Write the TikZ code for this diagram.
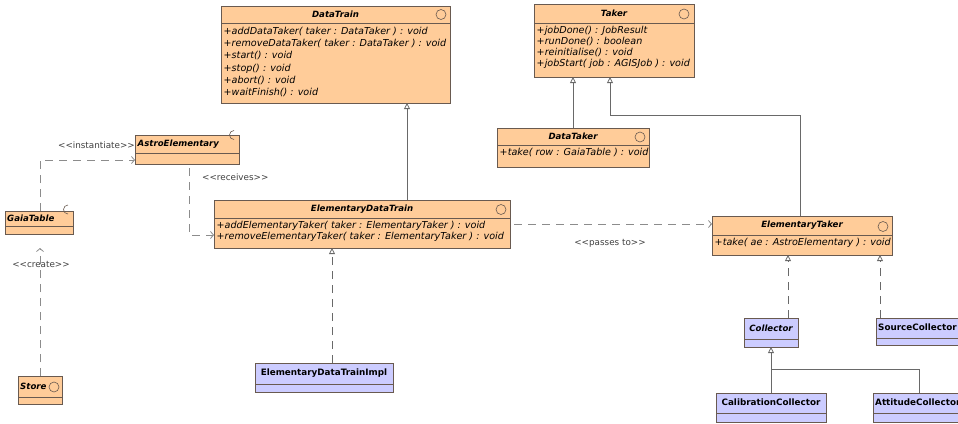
\documentclass[tikz,border=0pt]{standalone}
\usepackage{fontspec}
\setmainfont{DejaVu Sans}
\usetikzlibrary{arrows.meta,calc}
\definecolor{orfill}{RGB}{255,204,153}
\definecolor{lvfill}{RGB}{204,204,255}
\definecolor{edgec}{RGB}{105,90,80}
\definecolor{connc}{RGB}{105,105,105}
\definecolor{dconnc}{RGB}{140,140,140}
\tikzset{
  classbox/.style={draw=edgec, line width=0.7pt, inner sep=0pt, outer sep=0pt, rectangle},
  sepline/.style={draw=edgec, line width=0.6pt},
  ttl/.style={font=\fontsize{8.6}{10}\selectfont\bfseries\itshape, inner sep=0pt},
  ttlup/.style={font=\fontsize{8.8}{10}\selectfont\bfseries, inner sep=0pt},
  meth/.style={font=\fontsize{9.6}{11}\selectfont\itshape, inner sep=0pt, align=left, anchor=north west},
  methwide/.style={meth, font=\fontsize{9.6}{12.2}\selectfont\itshape},
  iconc/.style={draw=edgec, line width=0.6pt},
  inh/.style={draw=connc, line width=0.8pt, -{Triangle[open, length=6pt, width=6pt]}},
  realz/.style={inh, dash pattern=on 8pt off 6pt},
  plainc/.style={draw=connc, line width=0.8pt},
  dep/.style={draw=dconnc, line width=0.8pt, dash pattern=on 8pt off 6pt, -{Straight Barb[length=3pt,width=7pt]}},
  lbl/.style={font=\fontsize{8.8}{10}\selectfont, text=black!75, inner sep=0pt},
}
\newcommand\stereo[1]{{<}{<}#1{>}{>}}
% #1 name, #2 x1, #3 y1, #4 x2, #5 y2, #6 ysep, #7 fill
\newcommand\umlbox[7]{%
  \node[classbox, fill=#7, anchor=north west, minimum width={#4-#2}, minimum height={#5-#3}] (#1) at (#2,#3) {};
  \draw[sepline] (#2,#6) -- (#4,#6);
}
\begin{document}
\begin{tikzpicture}[x=1pt,y=-1pt]
\useasboundingbox (0,0) rectangle (958,423);
\clip (0,0) rectangle (958,423);

% ---- DataTrain
\umlbox{DataTrain}{221}{6}{450}{103}{23}{orfill}
\node[ttl] (DataTrainT) at (335.5,14.5) {DataTrain};
\draw[iconc] (441,14.5) circle (5);
\node[methwide] (DataTrainM) at (223.5,27) {+addDataTaker( taker : DataTaker ) : void\\+removeDataTaker( taker : DataTaker ) : void\\+start() : void\\+stop() : void\\+abort() : void\\+waitFinish() : void};

% ---- Taker
\umlbox{Taker}{534}{4}{694}{77}{23}{orfill}
\node[ttl] (TakerT) at (614,13.5) {Taker};
\draw[iconc] (684,14) circle (5);
\node[meth] (TakerM) at (536.5,26.5) {+jobDone() : JobResult\\+runDone() : boolean\\+reinitialise() : void\\+jobStart( job : AGISJob ) : void};

% ---- DataTaker
\umlbox{DataTaker}{497}{128}{649}{167}{145}{orfill}
\node[ttl] (DataTakerT) at (573,136.5) {DataTaker};
\draw[iconc] (640,137) circle (5);
\node[meth] (DataTakerM) at (499.5,148.5) {+take( row : GaiaTable ) : void};

% ---- AstroElementary
\umlbox{AE}{135}{135}{239}{164}{153}{orfill}
\node[ttl, anchor=west] (AET) at (137.5,144) {AstroElementary};
\draw[iconc] (234,139.5) arc (90:270:4.5);

% ---- GaiaTable
\umlbox{Gaia}{5}{211}{73}{234}{226}{orfill}
\node[ttl, anchor=west] (GaiaT) at (7,218.5) {GaiaTable};
\draw[iconc] (68,214) arc (90:270:4.5);

% ---- Store
\umlbox{Store}{18}{376}{62}{404}{397}{orfill}
\node[ttl, anchor=west] (StoreT) at (20,386.5) {Store};
\draw[iconc] (54,387) circle (5);

% ---- ElementaryDataTrain
\umlbox{EDT}{214}{200}{510}{248}{218}{orfill}
\node[ttl] (EDTT) at (362,209) {ElementaryDataTrain};
\draw[iconc] (501,209.5) circle (5);
\node[meth] (EDTM) at (216.5,221.5) {+addElementaryTaker( taker : ElementaryTaker ) : void\\+removeElementaryTaker( taker : ElementaryTaker ) : void};

% ---- ElementaryTaker
\umlbox{ElemTaker}{712}{216}{892}{255}{235}{orfill}
\node[ttl] (ElemTakerT) at (802,225.5) {ElementaryTaker};
\draw[iconc] (883,226.5) circle (5);
\node[meth] (ElemTakerM) at (714.5,238.5) {+take( ae : AstroElementary ) : void};

% ---- ElementaryDataTrainImpl
\umlbox{EDTImpl}{255}{363}{393}{392}{384}{lvfill}
\node[ttlup] (EDTImplT) at (324,373) {ElementaryDataTrainImpl};

% ---- Collector
\umlbox{Collector}{744}{318}{798}{347}{339}{lvfill}
\node[ttl] (CollectorT) at (771,328) {Collector};

% ---- SourceCollector
\umlbox{SrcColl}{876}{318}{975}{345}{338}{lvfill}
\node[ttlup, anchor=west] (SrcCollT) at (878,327.5) {SourceCollector};

% ---- CalibrationCollector
\umlbox{CalColl}{716}{393}{826}{422}{413}{lvfill}
\node[ttlup] (CalCollT) at (771,402.5) {CalibrationCollector};

% ---- AttitudeCollector
\umlbox{AttColl}{873}{393}{975}{422}{413}{lvfill}
\node[ttlup, anchor=west] (AttCollT) at (875,402.5) {AttitudeCollector};

% ---- connectors
\draw[inh] (DataTaker.north) -- (DataTaker.north |- Taker.south);
\coordinate (b1) at (610,115);
\coordinate (b0) at (800,115);
\draw[inh] (b0 |- ElemTaker.north) -- (b0) -- (b1) -- (b1 |- Taker.south);
\coordinate (g2) at (407,150);
\draw[inh] (g2 |- EDT.north) -- (g2 |- DataTrain.south);
\coordinate (g3) at (332,300);
\draw[realz] (g3 |- EDTImpl.north) -- (g3 |- EDT.south);
\coordinate (g4) at (788,290);
\draw[realz] (g4 |- Collector.north) -- (g4 |- ElemTaker.south);
\coordinate (g5) at (880,290);
\draw[realz] (g5 |- SrcColl.north) -- (g5 |- ElemTaker.south);
\draw[inh] (CalColl.north) -- (CalColl.north |- Collector.south);
\coordinate (j1) at (919,369);
\draw[plainc] (j1 |- AttColl.north) -- (j1) -- (j1 -| CalColl.north);

\coordinate (p1) at (600,224);
\draw[dep, shorten <=4pt] (p1 -| EDT.east) -- (p1 -| ElemTaker.west);
\node[lbl] (passes) at (610,243) {\stereo{passes to}};

\coordinate (r1) at (189,235);
\draw[dep, shorten <=4pt] (r1 |- AE.south) -- (r1) -- (r1 -| EDT.west);
\node[lbl, anchor=west] (receives) at (202,177) {\stereo{receives}};

\coordinate (i1) at (40,160);
\draw[dep] (i1 |- Gaia.north) -- (i1) -- (i1 -| AE.west);
\node[lbl, anchor=east] (instantiate) at (135,145) {\stereo{instantiate}};

\draw[dep, shorten >=14pt] (Store.north) -- (Store.north |- Gaia.south);
\node[lbl] (create) at (41,264) {\stereo{create}};
\end{tikzpicture}
\end{document}
